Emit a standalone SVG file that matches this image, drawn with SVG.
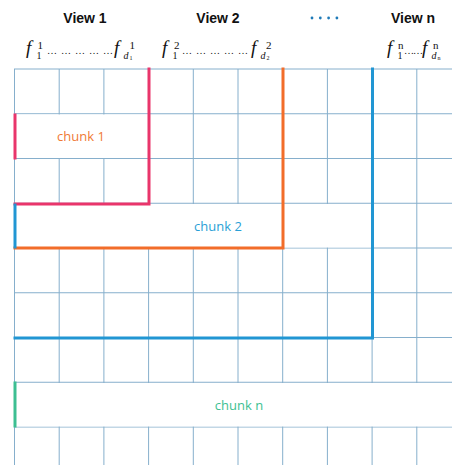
<svg xmlns="http://www.w3.org/2000/svg" width="452" height="465" viewBox="0 0 452 465">
<style>
.grid line{stroke:#86afcc;stroke-width:1}
.hd{font-family:"Liberation Sans",Arial,sans-serif;font-weight:bold;font-size:14px;fill:#111;text-anchor:middle}
.fm{font-family:"Liberation Serif","Times New Roman",serif;font-size:15px;fill:#111}
.f{font-size:19px;font-style:italic}
.it{font-style:italic}
.dt{font-size:10px}
.sp{font-size:11px}
.sb{font-size:10px}
.xs{font-size:6px}
.lb{font-family:"Open Sans","Liberation Sans",sans-serif;font-size:13px;text-anchor:middle}
.c{fill:none;stroke-width:3;stroke-linecap:square}
</style>
<rect width="452" height="465" fill="#fff"/>
<g id="grid" class="grid">
<line x1="14.5" y1="69" x2="14.5" y2="465"/>
<line x1="59.2" y1="69" x2="59.2" y2="465"/>
<line x1="103.9" y1="69" x2="103.9" y2="465"/>
<line x1="148.6" y1="69" x2="148.6" y2="465"/>
<line x1="193.3" y1="69" x2="193.3" y2="465"/>
<line x1="238" y1="69" x2="238" y2="465"/>
<line x1="282.7" y1="69" x2="282.7" y2="465"/>
<line x1="327.4" y1="69" x2="327.4" y2="465"/>
<line x1="372.1" y1="69" x2="372.1" y2="465"/>
<line x1="416.8" y1="69" x2="416.8" y2="465"/>
<line x1="14" y1="69" x2="452" y2="69"/>
<line x1="14" y1="113.75" x2="452" y2="113.75"/>
<line x1="14" y1="158.5" x2="452" y2="158.5"/>
<line x1="14" y1="203.25" x2="452" y2="203.25"/>
<line x1="14" y1="248" x2="452" y2="248"/>
<line x1="14" y1="292.75" x2="452" y2="292.75"/>
<line x1="14" y1="337.5" x2="452" y2="337.5"/>
<line x1="14" y1="382.25" x2="452" y2="382.25"/>
<line x1="14" y1="427" x2="452" y2="427"/>
</g>
<g id="headers">
<text class="hd" x="85" y="23">View 1</text>
<text class="hd" x="218" y="23">View 2</text>
<text class="hd" x="413" y="23">View n</text>
<g fill="#1f7ab8"><circle cx="312" cy="18" r="1.4"/><circle cx="320.3" cy="18" r="1.4"/><circle cx="328.6" cy="18" r="1.4"/><circle cx="336.9" cy="18" r="1.4"/></g>
</g>
<g id="features">
<text class="fm f" x="26" y="54">f</text>
<text class="fm sp" x="37.5" y="49">1</text><text class="fm sb" x="36.5" y="58.5">1</text>
<text class="fm dt" x="47 61 75 89 103" y="54">&#8230;&#8230;&#8230;&#8230;&#8230;</text>
<text class="fm f" x="114" y="54">f</text>
<text class="fm sp" x="129.5" y="49">1</text><text class="fm sb it" x="123.5" y="58.5">d</text><text class="fm xs" x="129.5" y="60">1</text>

<text class="fm f" x="162" y="54">f</text>
<text class="fm sp" x="174" y="49">2</text><text class="fm sb" x="172.5" y="58.5">1</text>
<text class="fm dt" x="182 196 210 224 238" y="54">&#8230;&#8230;&#8230;&#8230;&#8230;</text>
<text class="fm f" x="251" y="54">f</text>
<text class="fm sp" x="266" y="49">2</text><text class="fm sb it" x="260.5" y="58.5">d</text><text class="fm xs" x="266.5" y="60">2</text>

<text class="fm f" x="387" y="54">f</text>
<text class="fm sp" x="398" y="49">n</text><text class="fm sb" x="397.5" y="58.5">1</text>
<text class="fm dt" x="404 413" y="54">&#8230;&#8230;</text>
<text class="fm f" x="422" y="54">f</text>
<text class="fm sp" x="433" y="49">n</text><text class="fm sb it" x="431.5" y="58.5">d</text><text class="fm xs" x="437.5" y="60">n</text>
</g>
<g id="chunk1">
<rect x="15.5" y="114.5" width="132.6" height="43.5" fill="#fff"/>
<text class="lb" x="81" y="141" fill="#f07a35">chunk 1</text>
</g>
<g id="chunk2">
<rect x="15.5" y="204" width="356" height="43.5" fill="#fff"/>
<text class="lb" x="218" y="231" fill="#2a9fd6">chunk 2</text>
</g>
<g id="chunkn">
<rect x="15.5" y="383" width="437" height="43.5" fill="#fff"/>
<text class="lb" x="239" y="410" fill="#3dbf92">chunk n</text>
</g>
<g id="connectors">
<polyline class="c" stroke="#e9356b" points="149,69 149,204 15,204"/>
<line class="c" stroke="#e9356b" x1="15" y1="115" x2="15" y2="158"/>
<polyline class="c" stroke="#f26d2a" points="283,69 283,248 15,248"/>
<line class="c" stroke="#2196d3" x1="15" y1="205" x2="15" y2="247"/>
<polyline class="c" stroke="#2196d3" points="372.5,69 372.5,338 15,338"/>
<line class="c" stroke="#3dbf92" x1="15" y1="383" x2="15" y2="426"/>
</g>
</svg>
